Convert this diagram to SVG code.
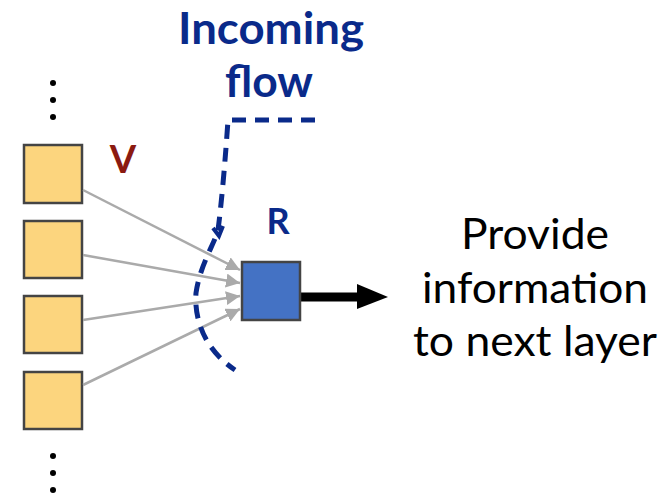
<svg xmlns="http://www.w3.org/2000/svg" width="663" height="496" viewBox="0 0 663 496">
<defs>
<style>
.v{fill:#fcd57e;stroke:#444;stroke-width:2.5}
.r{fill:#4472c4;stroke:#444;stroke-width:2.5}
.g{stroke:#aaaaaa;stroke-width:2.5;fill:none}
.lbl{font-family:Lato,"Open Sans",sans-serif;font-weight:bold}
.txt{font-family:Lato,"Open Sans",sans-serif;font-size:42px;fill:#000;text-anchor:middle}
.dot{fill:#000}
</style>
<marker id="ga" viewBox="0 0 10 10" refX="10" refY="5" markerWidth="14" markerHeight="14" markerUnits="userSpaceOnUse" orient="auto"><path d="M0,0 L10,5 L0,10 z" fill="#aaaaaa"/></marker>
</defs>
<rect width="663" height="496" fill="#fff"/>
<g id="dots-top"><circle class="dot" cx="53" cy="83" r="3"/><circle class="dot" cx="53" cy="100" r="3"/><circle class="dot" cx="53" cy="117" r="3"/></g>
<g id="dots-bottom"><circle class="dot" cx="53" cy="456" r="3"/><circle class="dot" cx="53" cy="473" r="3"/><circle class="dot" cx="53" cy="490" r="3"/></g>
<g id="v1"><rect class="v" x="24" y="145" width="58" height="58"/></g>
<g id="v2"><rect class="v" x="24" y="221" width="58" height="57"/></g>
<g id="v3"><rect class="v" x="24" y="296" width="58" height="57"/></g>
<g id="v4"><rect class="v" x="24" y="372" width="58" height="57"/></g>
<g id="vlabel"><text class="lbl" x="123" y="173" font-size="38" fill="#8b1a10" text-anchor="middle">V</text></g>
<g id="connectors">
<line class="g" x1="83" y1="190" x2="240" y2="270" marker-end="url(#ga)"/>
<line class="g" x1="83" y1="255" x2="240" y2="283" marker-end="url(#ga)"/>
<line class="g" x1="83" y1="320" x2="240" y2="296" marker-end="url(#ga)"/>
<line class="g" x1="83" y1="385" x2="240" y2="309" marker-end="url(#ga)"/>
<line x1="298" y1="297" x2="360" y2="297" stroke="#000" stroke-width="9" stroke-linecap="round"/>
<path d="M357,284 L388,297 L357,309 z" fill="#000"/>
</g>
<g id="r"><rect class="r" x="242" y="262" width="58" height="58"/><text class="lbl" x="278" y="234" font-size="36" fill="#0a2a8a" text-anchor="middle">R</text></g>
<g id="flow">
<text class="lbl" x="271" y="44" font-size="43" fill="#0a2a8a" text-anchor="middle" textLength="186" lengthAdjust="spacingAndGlyphs">Incoming</text>
<text class="lbl" x="269" y="97" font-size="43" fill="#0a2a8a" text-anchor="middle" textLength="88" lengthAdjust="spacingAndGlyphs">flow</text>
<path d="M315,120 L228,120 C226,150 222,200 218,230 C214,245 200,265 196,293 C194,320 205,350 235,370" fill="none" stroke="#0a2a8a" stroke-width="5" stroke-dasharray="14 9"/>
<path d="M213,228 L219,236 L223,226" fill="none" stroke="#0a2a8a" stroke-width="4"/>
</g>
<g id="out">
<text class="txt" x="535" y="249" textLength="148" lengthAdjust="spacingAndGlyphs">Provide</text>
<text class="txt" x="535" y="303" textLength="226" lengthAdjust="spacingAndGlyphs">information</text>
<text class="txt" x="535" y="356" textLength="244" lengthAdjust="spacingAndGlyphs">to next layer</text>
</g>
</svg>
